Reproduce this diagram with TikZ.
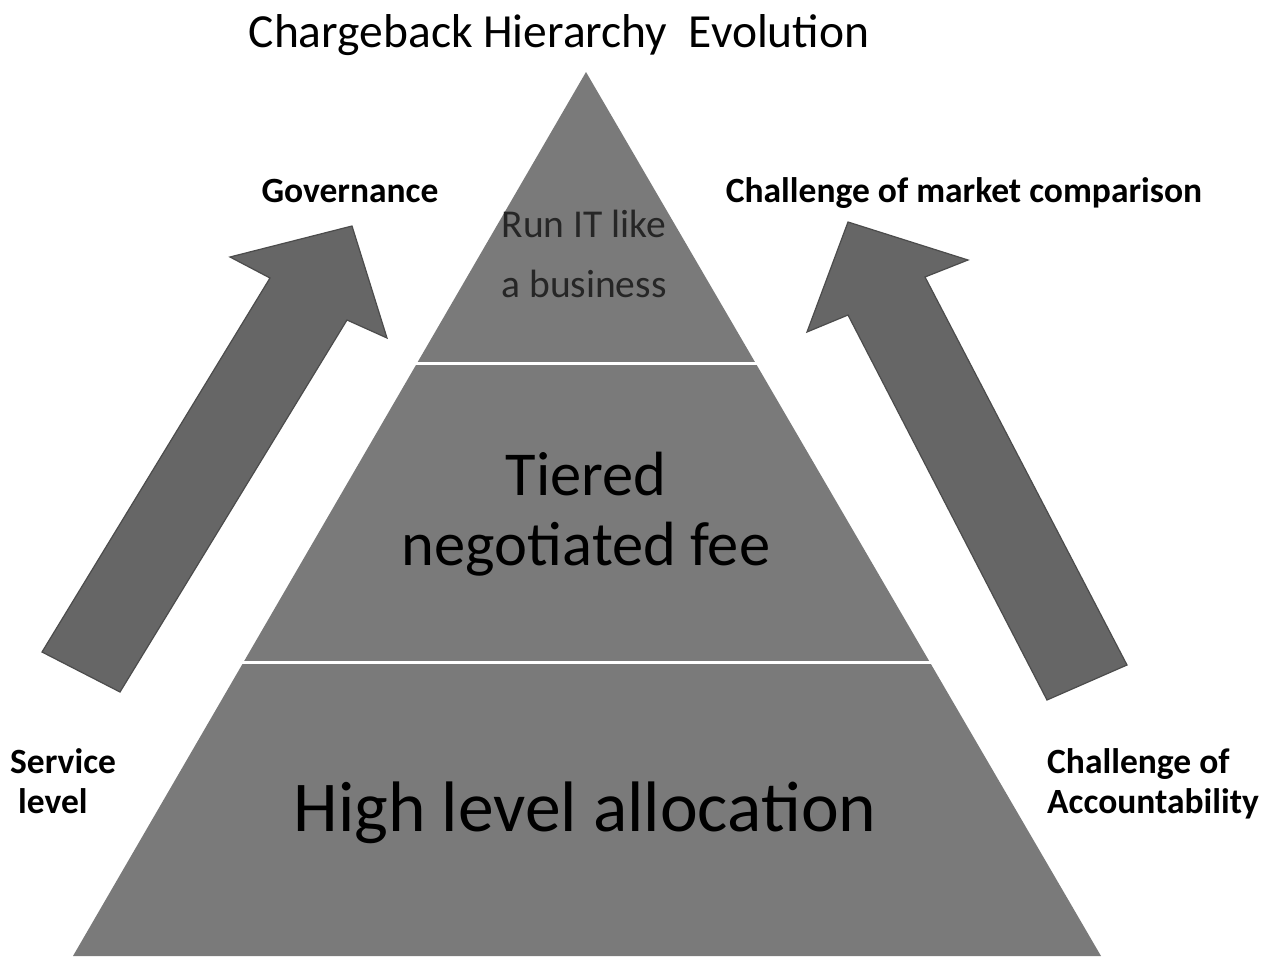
\documentclass[tikz,border=0pt]{standalone}
\usepackage{fontspec}
\setmainfont{Carlito}
\begin{document}
\begin{tikzpicture}[x=1pt,y=-1pt,
  tier/.style={fill=pyr,draw=none},
  blockarrow/.style={fill=arr,draw=arrline,line width=1.2pt,line join=miter},
  divider/.style={draw=white,line width=3pt},
  sidelabel/.style={font=\bfseries\fontsize{35.5}{40}\selectfont,text=black,inner sep=0pt},
  tiertext/.style={text=black,inner sep=0pt}]
\definecolor{pyr}{HTML}{7A7A7A}
\definecolor{arr}{HTML}{666666}
\definecolor{arrline}{HTML}{4C4C4C}
\useasboundingbox (0,0) rectangle (1269,956);
\fill[white] (0,0) rectangle (1269,956);

% pyramid
\fill[tier] (586,72) -- (1101,956) -- (73,956) -- cycle;
\draw[divider] (414,363) -- (758,363);
\draw[divider] (242,662) -- (932,662);

% block arrows
\draw[blockarrow] (42,652) -- (270,278) -- (230,257) -- (352,226)
  -- (387,338) -- (347,320) -- (120,692) -- cycle;
\draw[blockarrow] (1127,665) -- (925,277) -- (968,260) -- (848,222)
  -- (807,332) -- (848,315) -- (1047,700) -- cycle;

% title
\node[anchor=base,inner sep=0pt,font=\fontsize{47.5}{52}\selectfont] (title)
  at (559,47) {Chargeback Hierarchy\ \ Evolution};

% labels beside the arrows
\node[sidelabel,anchor=base] (gov) at (350,202) {Governance};
\node[sidelabel,anchor=base] (mkt) at (964,202) {Challenge of market comparison};
\node[sidelabel,anchor=base west] (svc1) at (10,773) {Service};
\node[sidelabel,anchor=base west] (svc2) at (18,813) {level};
\node[sidelabel,anchor=base west] (acc1) at (1047,773) {Challenge of};
\node[sidelabel,anchor=base west] (acc2) at (1047,813) {Accountability};

% tier texts
\node[tiertext,text=black!85,anchor=base,font=\fontsize{39.5}{44}\selectfont] (top1) at (584,237) {Run IT like};
\node[tiertext,text=black!85,anchor=base,font=\fontsize{39.5}{44}\selectfont] (top2) at (584,297) {a business};
\node[tiertext,anchor=base,font=\fontsize{62.5}{68}\selectfont] (mid1) at (586,495) {Tiered};
\node[tiertext,anchor=base,font=\fontsize{62.5}{68}\selectfont] (mid2) at (586,565) {negotiated fee};
\node[tiertext,anchor=base,font=\fontsize{71.5}{78}\selectfont] (low) at (585,831) {High level allocation};
\end{tikzpicture}
\end{document}
